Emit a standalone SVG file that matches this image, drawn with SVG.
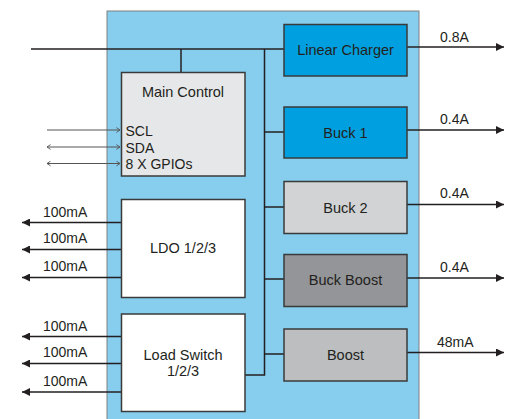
<svg xmlns="http://www.w3.org/2000/svg" width="509" height="419" viewBox="0 0 509 419">
<style>
text{font-family:"Liberation Sans",Arial,sans-serif;font-size:14px;fill:#231f20}
.c{text-anchor:middle;font-size:14.5px}
.box{stroke:#3a3a3a;stroke-width:1.5}
.w{stroke:#231f20;stroke-width:1.5;fill:none}
.s{stroke:#555;stroke-width:1;fill:none}
</style>
<defs>
<marker id="ah" viewBox="0 0 10 10" refX="10" refY="5" markerWidth="8" markerHeight="8" orient="auto-start-reverse" markerUnits="userSpaceOnUse">
<path d="M0,0 L10,5 L0,10 z" fill="#231f20"/>
</marker>
<marker id="oh" viewBox="0 0 10 10" refX="9" refY="5" markerWidth="6" markerHeight="6" orient="auto-start-reverse" markerUnits="userSpaceOnUse">
<path d="M3,1 L9,5 L3,9" fill="none" stroke="#555" stroke-width="1.5"/>
</marker>
</defs>
<rect width="509" height="419" fill="#fff"/>
<rect id="chip" x="107" y="11" width="312" height="412" fill="#86cdee" stroke="#808080" stroke-width="1"/>
<g id="connectors">
<path class="w" d="M31,49 H284"/>
<path class="w" d="M181,49 V72"/>
<path class="w" d="M264.5,49 V375 H245"/>
<path class="w" d="M264.5,132 H284 M264.5,207 H284 M264.5,279 H284 M264.5,354 H284"/>
<path class="w" d="M407,47 H504" marker-end="url(#ah)"/>
<path class="w" d="M407,130 H504" marker-end="url(#ah)"/>
<path class="w" d="M407,204.5 H504" marker-end="url(#ah)"/>
<path class="w" d="M407,278 H504" marker-end="url(#ah)"/>
<path class="w" d="M407,352.5 H504" marker-end="url(#ah)"/>
<path class="w" d="M121,222.5 H22" marker-end="url(#ah)"/>
<path class="w" d="M121,249.5 H22" marker-end="url(#ah)"/>
<path class="w" d="M121,277.5 H22" marker-end="url(#ah)"/>
<path class="w" d="M121,336.5 H22" marker-end="url(#ah)"/>
<path class="w" d="M121,363.5 H22" marker-end="url(#ah)"/>
<path class="w" d="M121,392 H22" marker-end="url(#ah)"/>
<path class="s" d="M47,130 H120" marker-end="url(#oh)"/>
<path class="s" d="M47,147 H120" marker-start="url(#oh)" marker-end="url(#oh)"/>
<path class="s" d="M47,163.5 H120" marker-start="url(#oh)" marker-end="url(#oh)"/>
</g>
<g id="labels">
<text x="440" y="42">0.8A</text>
<text x="440" y="124">0.4A</text>
<text x="440" y="198">0.4A</text>
<text x="440" y="272">0.4A</text>
<text x="437" y="347">48mA</text>
<text x="43" y="217">100mA</text>
<text x="43" y="243">100mA</text>
<text x="43" y="271">100mA</text>
<text x="43" y="331">100mA</text>
<text x="43" y="357">100mA</text>
<text x="43" y="386">100mA</text>
</g>
<g id="main-control">
<rect class="box" x="121.5" y="72.5" width="123.5" height="103.5" fill="#e6e7e8"/>
<text class="c" x="183" y="97">Main Control</text>
<text x="125.5" y="136">SCL</text>
<text x="125.5" y="153">SDA</text>
<text x="125.5" y="169">8 X GPIOs</text>
</g>
<g id="ldo">
<rect class="box" x="121.5" y="199.5" width="123.5" height="98" fill="#fff"/>
<text class="c" x="183" y="253">LDO 1/2/3</text>
</g>
<g id="load-switch">
<rect class="box" x="121.5" y="314" width="123.5" height="97.5" fill="#fff"/>
<text class="c" x="183" y="360">Load Switch</text>
<text class="c" x="183" y="376">1/2/3</text>
</g>
<g id="linear-charger">
<rect class="box" x="284" y="24.5" width="123" height="51.5" fill="#009fdf"/>
<text class="c" x="345.5" y="55">Linear Charger</text>
</g>
<g id="buck1">
<rect class="box" x="284" y="107" width="123" height="51" fill="#009fdf"/>
<text class="c" x="345.5" y="138">Buck 1</text>
</g>
<g id="buck2">
<rect class="box" x="284" y="181.5" width="123" height="52" fill="#d1d3d4"/>
<text class="c" x="345.5" y="213">Buck 2</text>
</g>
<g id="buck-boost">
<rect class="box" x="284" y="254.5" width="123" height="52" fill="#939598"/>
<text class="c" x="345.5" y="285">Buck Boost</text>
</g>
<g id="boost">
<rect class="box" x="284" y="329" width="123" height="52" fill="#bcbec0"/>
<text class="c" x="345.5" y="360">Boost</text>
</g>
</svg>
